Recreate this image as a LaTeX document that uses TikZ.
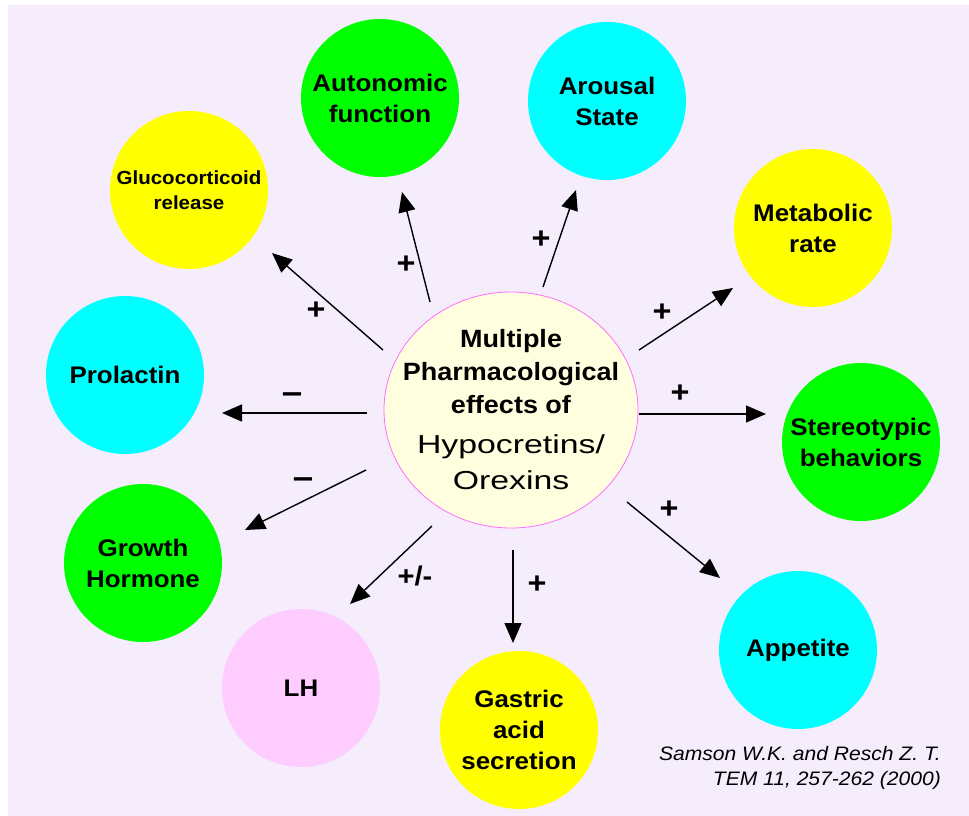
\documentclass[tikz,border=0pt]{standalone}
\usepackage{fontspec}
\setmainfont{Liberation Sans}[FakeStretch=1.08]
\newfontfamily\widefont{Liberation Sans}[FakeStretch=1.3]
\usetikzlibrary{shapes.geometric,arrows.meta,positioning,calc}

\definecolor{bgLilac}{RGB}{245,237,252}
\definecolor{cYellow}{RGB}{255,255,0}
\definecolor{cGreen}{RGB}{0,255,0}
\definecolor{cCyan}{RGB}{0,255,255}
\definecolor{cPink}{RGB}{255,204,255}
\definecolor{cCream}{RGB}{255,255,224}
\definecolor{cMagenta}{RGB}{255,110,255}

\tikzset{
    effect/.style={circle, minimum size=158pt, inner sep=0pt, align=center,
        font=\fontsize{24}{31}\selectfont\bfseries},
    sign/.style={inner sep=0pt, font=\fontsize{30}{30}\selectfont\bfseries},
    minussign/.style={inner sep=0pt, font=\fontsize{34}{34}\selectfont\bfseries},
    effarrow/.style={line width=1.4pt, -{Triangle[length=20pt,width=17pt]}}
}

\begin{document}
\begin{tikzpicture}[x=1pt, y=-1pt]
        % Page and background
        \useasboundingbox (0,0) rectangle (969,816);
        \fill[bgLilac] (8,5) rectangle (969,816);

        % Central node
        \node[ellipse, minimum width=254pt, minimum height=236pt,
              inner xsep=-30pt, inner ysep=-10pt,
              fill=cCream, draw=cMagenta, line width=0.8pt, align=center,
              font=\fontsize{25}{33}\selectfont\bfseries] (HCRT) at (511,410)
            {Multiple\\ Pharmacological\\ effects of\\[7pt]
             {\widefont\mdseries\fontsize{26}{34}\selectfont Hypocretins/}\\[3pt]
             {\widefont\mdseries\fontsize{26}{34}\selectfont Orexins}};

        % Effect circles, clockwise from upper left
        \node[effect, fill=cYellow, font=\fontsize{19}{25}\selectfont\bfseries] (GLUC) at (189,190) {Glucocorticoid\\ release};
        \node[effect, fill=cGreen] (AUTO) at (380,98) {Autonomic\\ function};
        \node[effect, fill=cCyan] (AROU) at (607,101) {Arousal\\ State};
        \node[effect, fill=cYellow] (META) at (813,228) {Metabolic\\ rate};
        \node[effect, fill=cGreen] (STER) at (861,442) {Stereotypic\\ behaviors};
        \node[effect, fill=cCyan] (APPE) at (798,650) {Appetite};
        \node[effect, fill=cYellow] (GAST) at (519,730) {Gastric\\ acid\\ secretion};
        \node[effect, fill=cPink] (LH) at (301,688) {LH};
        \node[effect, fill=cGreen] (GROW) at (143,563) {Growth\\ Hormone};
        \node[effect, fill=cCyan] (PROL) at (125,375) {Prolactin};

        % Arrows: start and tip of each one
        \foreach \n/\sx/\sy/\ex/\ey in {
                gluc/383/350/272/253,
                auto/430/302/402/192,
                arou/543/287/576/190,
                meta/639/350/733/288,
                ster/639/414/766/414,
                appe/627/502/720/578,
                gast/513/550/513/643,
                lh/432/526/350/604,
                grow/366/470/245/530,
                prol/367/413/222/413} {
            \coordinate (\n-s) at (\sx,\sy);
            \coordinate (\n-e) at (\ex,\ey);
            \draw[effarrow] (\n-s) -- (\n-e);
        }

        % Signs beside the arrows
        \foreach \n/\x/\y in {gluc/316/311, auto/406/265, arou/541/240, meta/662/313,
                              ster/680/394, appe/669/510, gast/537/585} {
            \node[sign] (\n-sign) at (\x,\y) {+};
        }
        \node[sign, font=\fontsize{27}{27}\selectfont\bfseries] (lh-sign) at (415,576) {+/-};
        \node[minussign] (grow-sign) at (303,483) {--};
        \node[minussign] (prol-sign) at (292,398) {--};

        % Reference
        \node[anchor=north east, inner sep=0pt, align=right,
              font=\fontsize{19.5}{25}\selectfont\itshape] (REF) at (941,746)
            {Samson W.K. and Resch Z. T.\\ TEM 11, 257-262 (2000)};
\end{tikzpicture}
\end{document}
